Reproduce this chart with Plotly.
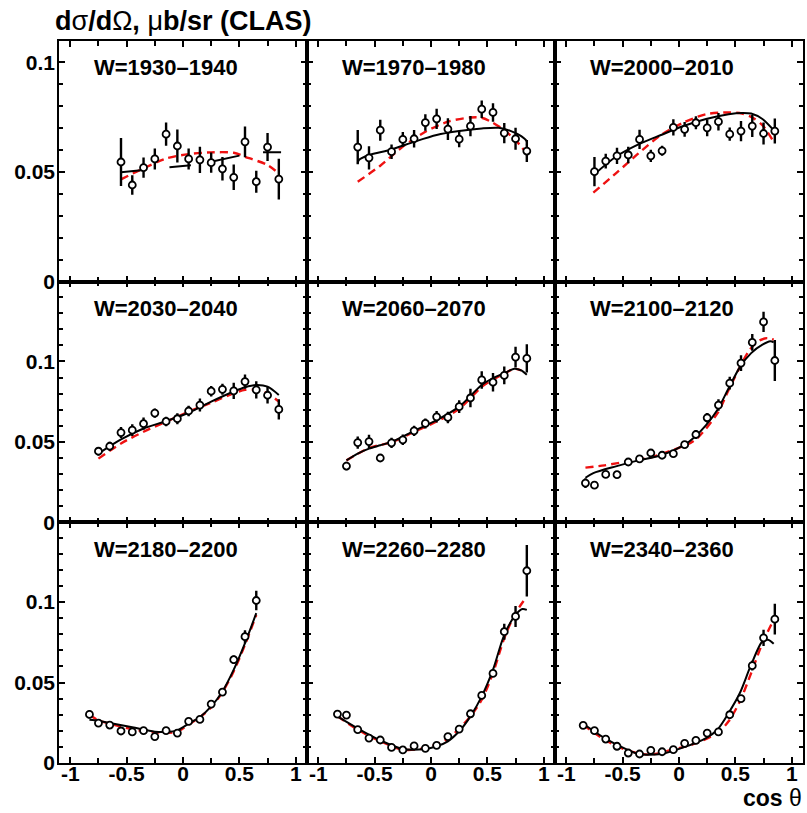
import plotly.graph_objects as go
from plotly.subplots import make_subplots

# ---- panel titles (energy bins, MeV) ----
w_labels = ["W=1930–1940", "W=1970–1980", "W=2000–2010",
            "W=2030–2040", "W=2060–2070", "W=2100–2120",
            "W=2180–2200", "W=2260–2280", "W=2340–2360"]

# ---- CLAS data: cos(theta), dsigma/dOmega (mub/sr), stat. error ----
cos_1 = [-0.55, -0.45, -0.35, -0.25, -0.15, -0.05, 0.05, 0.15, 0.25, 0.35, 0.45, 0.55, 0.65, 0.75, 0.85]
xs_1 = [0.0546, 0.0441, 0.0520, 0.0560, 0.0673, 0.0619, 0.0560, 0.0556, 0.0543, 0.0515, 0.0476, 0.0638, 0.0456, 0.0614, 0.0468]
err_1 = [0.0110, 0.0045, 0.0046, 0.0048, 0.0053, 0.0075, 0.0048, 0.0060, 0.0046, 0.0054, 0.0058, 0.0070, 0.0050, 0.0064, 0.0093]

cos_2 = [-0.65, -0.55, -0.45, -0.35, -0.25, -0.15, -0.05, 0.05, 0.15, 0.25, 0.35, 0.45, 0.55, 0.65, 0.75, 0.85]
xs_2 = [0.0614, 0.0565, 0.0691, 0.0593, 0.0649, 0.0652, 0.0726, 0.0743, 0.0696, 0.0650, 0.0710, 0.0787, 0.0772, 0.0678, 0.0652, 0.0596]
err_2 = [0.0078, 0.0053, 0.0048, 0.0033, 0.0034, 0.0040, 0.0038, 0.0046, 0.0050, 0.0037, 0.0046, 0.0040, 0.0042, 0.0046, 0.0050, 0.0050]

cos_3 = [-0.75, -0.65, -0.55, -0.45, -0.35, -0.25, -0.15, -0.05, 0.05, 0.15, 0.25, 0.35, 0.45, 0.55, 0.65, 0.75, 0.85]
xs_3 = [0.0502, 0.0550, 0.0574, 0.0578, 0.0649, 0.0574, 0.0597, 0.0704, 0.0695, 0.0725, 0.0702, 0.0730, 0.0673, 0.0687, 0.0710, 0.0676, 0.0687]
err_3 = [0.0067, 0.0034, 0.0037, 0.0038, 0.0044, 0.0028, 0.0023, 0.0037, 0.0034, 0.0030, 0.0038, 0.0040, 0.0030, 0.0046, 0.0050, 0.0050, 0.0057]

cos_4 = [-0.75, -0.65, -0.55, -0.45, -0.35, -0.25, -0.15, -0.05, 0.05, 0.15, 0.25, 0.35, 0.45, 0.55, 0.65, 0.75, 0.85]
xs_4 = [0.0442, 0.0473, 0.0558, 0.0573, 0.0613, 0.0679, 0.0627, 0.0644, 0.0692, 0.0729, 0.0815, 0.0827, 0.0817, 0.0875, 0.0823, 0.0790, 0.0702]
err_4 = [0.0026, 0.0028, 0.0034, 0.0037, 0.0038, 0.0029, 0.0030, 0.0034, 0.0033, 0.0040, 0.0033, 0.0034, 0.0050, 0.0044, 0.0054, 0.0052, 0.0063]

cos_5 = [-0.75, -0.65, -0.55, -0.45, -0.35, -0.25, -0.15, -0.05, 0.05, 0.15, 0.25, 0.35, 0.45, 0.55, 0.65, 0.75, 0.85]
xs_5 = [0.0350, 0.0496, 0.0502, 0.0400, 0.0494, 0.0513, 0.0569, 0.0615, 0.0656, 0.0652, 0.0719, 0.0773, 0.0885, 0.0871, 0.0913, 0.1027, 0.1019]
err_5 = [0.0026, 0.0038, 0.0042, 0.0024, 0.0032, 0.0033, 0.0032, 0.0031, 0.0036, 0.0036, 0.0040, 0.0057, 0.0054, 0.0057, 0.0055, 0.0065, 0.0088]

cos_6 = [-0.83, -0.75, -0.65, -0.55, -0.45, -0.35, -0.25, -0.15, -0.05, 0.05, 0.15, 0.25, 0.35, 0.45, 0.55, 0.65, 0.75, 0.85]
xs_6 = [0.0244, 0.0231, 0.0298, 0.0296, 0.0375, 0.0394, 0.0431, 0.0417, 0.0427, 0.0483, 0.0546, 0.0650, 0.0729, 0.0865, 0.0990, 0.1119, 0.1246, 0.1006]
err_6 = [0.0030, 0.0015, 0.0015, 0.0015, 0.0020, 0.0020, 0.0020, 0.0020, 0.0020, 0.0020, 0.0028, 0.0030, 0.0036, 0.0040, 0.0049, 0.0052, 0.0063, 0.0128]

cos_7 = [-0.83, -0.75, -0.65, -0.55, -0.45, -0.35, -0.25, -0.15, -0.05, 0.05, 0.15, 0.25, 0.35, 0.45, 0.55, 0.65]
xs_7 = [0.0302, 0.0248, 0.0236, 0.0199, 0.0193, 0.0201, 0.0164, 0.0201, 0.0186, 0.0259, 0.0271, 0.0366, 0.0441, 0.0642, 0.0785, 0.1010]
err_7 = [0.0025, 0.0010, 0.0010, 0.0010, 0.0010, 0.0010, 0.0010, 0.0010, 0.0010, 0.0010, 0.0010, 0.0015, 0.0020, 0.0026, 0.0040, 0.0060]

cos_8 = [-0.83, -0.75, -0.65, -0.55, -0.45, -0.35, -0.25, -0.15, -0.05, 0.05, 0.15, 0.25, 0.35, 0.45, 0.55, 0.65, 0.75, 0.85]
xs_8 = [0.0304, 0.0298, 0.0207, 0.0155, 0.0143, 0.0097, 0.0081, 0.0106, 0.0091, 0.0110, 0.0164, 0.0211, 0.0306, 0.0420, 0.0557, 0.0816, 0.0911, 0.1195]
err_8 = [0.0010, 0.0010, 0.0010, 0.0010, 0.0010, 0.0010, 0.0010, 0.0010, 0.0010, 0.0010, 0.0010, 0.0012, 0.0015, 0.0020, 0.0022, 0.0050, 0.0065, 0.0160]

cos_9 = [-0.85, -0.75, -0.65, -0.55, -0.45, -0.35, -0.25, -0.15, -0.05, 0.05, 0.15, 0.25, 0.35, 0.45, 0.55, 0.65, 0.75, 0.85]
xs_9 = [0.0234, 0.0201, 0.0149, 0.0104, 0.0062, 0.0056, 0.0079, 0.0070, 0.0083, 0.0122, 0.0141, 0.0186, 0.0193, 0.0300, 0.0400, 0.0605, 0.0778, 0.0894]
err_9 = [0.0015, 0.0010, 0.0010, 0.0010, 0.0010, 0.0010, 0.0010, 0.0010, 0.0010, 0.0012, 0.0012, 0.0012, 0.0012, 0.0015, 0.0020, 0.0030, 0.0050, 0.0096]

# ---- model curves: solid black (fit) and dashed red (alternative solution) ----
fit_x_1 = [-0.55, -0.35, None, -0.12, 0.07, None, 0.25, 0.50, None, 0.71, 0.87]
fit_y_1 = [0.0499, 0.0509, None, 0.0522, 0.0531, None, 0.0547, 0.0575, None, 0.0590, 0.0590]
alt_x_1 = [-0.55, -0.35, -0.15, 0.05, 0.25, 0.45, 0.55, 0.75, 0.85]
alt_y_1 = [0.0467, 0.0517, 0.0562, 0.0582, 0.0590, 0.0588, 0.0570, 0.0532, 0.0494]

fit_x_2 = [-0.65, -0.64, -0.55, -0.35, -0.15, 0.05, 0.25, 0.45, 0.60, 0.71, 0.80, 0.85, 0.85]
fit_y_2 = [0.0540, 0.0555, 0.0578, 0.0603, 0.0638, 0.0669, 0.0687, 0.0699, 0.0702, 0.0687, 0.0664, 0.0640, 0.0625]
alt_x_2 = [-0.65, -0.45, -0.25, -0.05, 0.15, 0.35, 0.45, 0.55, 0.65, 0.75, 0.85]
alt_y_2 = [0.0456, 0.0529, 0.0616, 0.0684, 0.0730, 0.0749, 0.0748, 0.0725, 0.0691, 0.0646, 0.0585]

fit_x_3 = [-0.76, -0.56, -0.36, -0.16, 0.04, 0.24, 0.44, 0.56, 0.64, 0.74, 0.84]
fit_y_3 = [0.0486, 0.0570, 0.0626, 0.0669, 0.0710, 0.0742, 0.0764, 0.0770, 0.0767, 0.0742, 0.0691]
alt_x_3 = [-0.76, -0.56, -0.36, -0.16, 0.04, 0.24, 0.44, 0.56, 0.64, 0.74, 0.84]
alt_y_3 = [0.0406, 0.0494, 0.0585, 0.0669, 0.0726, 0.0764, 0.0772, 0.0767, 0.0752, 0.0714, 0.0638]

fit_x_4 = [-0.75, -0.55, -0.35, -0.15, 0.05, 0.25, 0.45, 0.55, 0.65, 0.75, 0.85]
fit_y_4 = [0.0427, 0.0515, 0.0583, 0.0629, 0.0681, 0.0750, 0.0813, 0.0840, 0.0854, 0.0844, 0.0792]
alt_x_4 = [-0.75, -0.55, -0.35, -0.15, 0.05, 0.25, 0.45, 0.55, 0.65, 0.75, 0.85]
alt_y_4 = [0.0396, 0.0490, 0.0563, 0.0625, 0.0688, 0.0744, 0.0802, 0.0823, 0.0823, 0.0802, 0.0750]

fit_x_5 = [-0.75, -0.65, -0.55, -0.45, -0.35, -0.15, 0.05, 0.25, 0.45, 0.55, 0.65, 0.74, 0.80, 0.85]
fit_y_5 = [0.0385, 0.0427, 0.0458, 0.0479, 0.0500, 0.0569, 0.0635, 0.0719, 0.0854, 0.0896, 0.0927, 0.0954, 0.0944, 0.0917]
alt_x_5 = [-0.75, -0.55, -0.35, -0.15, 0.05, 0.25, 0.45, 0.55, 0.65, 0.74, 0.80]
alt_y_5 = [0.0385, 0.0462, 0.0498, 0.0562, 0.0627, 0.0706, 0.0842, 0.0888, 0.0925, 0.0954, 0.0944]

fit_x_6 = [-0.83, -0.76, -0.56, -0.36, -0.16, 0.04, 0.14, 0.24, 0.34, 0.44, 0.54, 0.64, 0.74, 0.81, 0.84]
fit_y_6 = [0.0277, 0.0306, 0.0348, 0.0385, 0.0417, 0.0479, 0.0531, 0.0604, 0.0698, 0.0833, 0.0965, 0.1052, 0.1104, 0.1125, 0.1119]
alt_x_6 = [-0.83, -0.66, -0.46, -0.26, -0.06, 0.14, 0.34, 0.44, 0.54, 0.62, 0.70, 0.78, 0.84]
alt_y_6 = [0.0340, 0.0354, 0.0379, 0.0402, 0.0448, 0.0510, 0.0677, 0.0823, 0.0965, 0.1065, 0.1125, 0.1145, 0.1135]

fit_x_7 = [-0.83, -0.75, -0.65, -0.45, -0.25, -0.15, -0.05, 0.05, 0.15, 0.25, 0.35, 0.45, 0.55, 0.65]
fit_y_7 = [0.0269, 0.0263, 0.0248, 0.0222, 0.0195, 0.0193, 0.0203, 0.0244, 0.0286, 0.0352, 0.0445, 0.0580, 0.0745, 0.0932]
alt_x_7 = [-0.83, -0.75, -0.65, -0.45, -0.25, -0.05, 0.05, 0.15, 0.25, 0.35, 0.45, 0.55, 0.65]
alt_y_7 = [0.0300, 0.0265, 0.0245, 0.0210, 0.0190, 0.0195, 0.0240, 0.0285, 0.0345, 0.0440, 0.0570, 0.0735, 0.0920]

fit_x_8 = [-0.83, -0.64, -0.45, -0.25, -0.05, 0.05, 0.15, 0.25, 0.35, 0.45, 0.55, 0.65, 0.75, 0.81, 0.85]
fit_y_8 = [0.0290, 0.0211, 0.0141, 0.0087, 0.0087, 0.0104, 0.0135, 0.0197, 0.0290, 0.0414, 0.0580, 0.0797, 0.0921, 0.0957, 0.0952]
alt_x_8 = [-0.83, -0.64, -0.45, -0.25, -0.05, 0.15, 0.35, 0.45, 0.55, 0.65, 0.75, 0.85]
alt_y_8 = [0.0290, 0.0203, 0.0135, 0.0083, 0.0093, 0.0151, 0.0290, 0.0393, 0.0559, 0.0776, 0.0932, 0.1035]

fit_x_9 = [-0.85, -0.66, -0.46, -0.36, -0.16, 0.04, 0.24, 0.34, 0.44, 0.54, 0.64, 0.74, 0.79, 0.84]
fit_y_9 = [0.0244, 0.0155, 0.0083, 0.0056, 0.0056, 0.0097, 0.0155, 0.0207, 0.0311, 0.0435, 0.0611, 0.0756, 0.0766, 0.0741]
alt_x_9 = [-0.85, -0.66, -0.46, -0.26, -0.06, 0.14, 0.34, 0.44, 0.54, 0.64, 0.74, 0.84]
alt_y_9 = [0.0238, 0.0145, 0.0079, 0.0052, 0.0083, 0.0120, 0.0186, 0.0259, 0.0383, 0.0559, 0.0745, 0.0890]

# ---- axis ticks ----
x_tickvals = [-1, -0.5, 0, 0.5, 1]
x_ticktext = ["-1", "-0.5", "0", "0.5", "1"]
y_tickvals = [0, 0.05, 0.1]
y_ticktext = ["0", "0.05", "0.1"]
row_ymax = [0.1098, 0.1496, 0.1496]

panels = [
    (cos_1, xs_1, err_1, fit_x_1, fit_y_1, alt_x_1, alt_y_1),
    (cos_2, xs_2, err_2, fit_x_2, fit_y_2, alt_x_2, alt_y_2),
    (cos_3, xs_3, err_3, fit_x_3, fit_y_3, alt_x_3, alt_y_3),
    (cos_4, xs_4, err_4, fit_x_4, fit_y_4, alt_x_4, alt_y_4),
    (cos_5, xs_5, err_5, fit_x_5, fit_y_5, alt_x_5, alt_y_5),
    (cos_6, xs_6, err_6, fit_x_6, fit_y_6, alt_x_6, alt_y_6),
    (cos_7, xs_7, err_7, fit_x_7, fit_y_7, alt_x_7, alt_y_7),
    (cos_8, xs_8, err_8, fit_x_8, fit_y_8, alt_x_8, alt_y_8),
    (cos_9, xs_9, err_9, fit_x_9, fit_y_9, alt_x_9, alt_y_9),
]

FONT = "Liberation Sans, Arial, sans-serif"

fig = make_subplots(rows=3, cols=3, horizontal_spacing=0, vertical_spacing=0)

for i, (cx, cy, ce, fx, fy, ax_, ay_) in enumerate(panels):
    r, c = i // 3 + 1, i % 3 + 1
    fig.add_trace(go.Scatter(
        x=ax_, y=ay_, mode="lines", line=dict(color="#ee1111", width=2.4, dash="8px,5px", shape="spline", smoothing=0.8),
        showlegend=False, hoverinfo="skip"), row=r, col=c)
    fig.add_trace(go.Scatter(
        x=fx, y=fy, mode="lines", connectgaps=False,
        line=dict(color="black", width=2.0, shape="spline" if i else "linear", smoothing=0.8),
        showlegend=False, hoverinfo="skip"), row=r, col=c)
    fig.add_trace(go.Scatter(
        x=cx, y=cy, mode="markers",
        error_y=dict(type="data", array=ce, visible=True, color="black", thickness=2.4, width=0),
        marker=dict(symbol="circle", size=7, color="white", line=dict(color="black", width=1.8)),
        showlegend=False), row=r, col=c)

    fig.update_xaxes(
        row=r, col=c, range=[-1.1, 1.1], showgrid=False, zeroline=False,
        showline=True, linecolor="black", linewidth=1.6, mirror="allticks",
        ticks="inside", ticklen=6, tickwidth=1.5, tickcolor="black",
        tickmode="array", tickvals=x_tickvals, ticktext=x_ticktext,
        showticklabels=(r == 3), ticklabelstandoff=-9,
        tickfont=dict(family=FONT, size=21, color="black", weight="bold"),
        minor=dict(ticks="inside", dtick=0.25, tick0=0, ticklen=5, tickwidth=1.5, tickcolor="black"),
    )
    fig.update_yaxes(
        row=r, col=c, range=[0, row_ymax[r - 1]], showgrid=False, zeroline=False,
        showline=True, linecolor="black", linewidth=1.6, mirror="allticks",
        ticks="inside", ticklen=6, tickwidth=1.5, tickcolor="black",
        tickmode="array", tickvals=y_tickvals, ticktext=y_ticktext,
        showticklabels=(c == 1), ticklabelstandoff=-2,
        tickfont=dict(family=FONT, size=21, color="black", weight="bold"),
        minor=dict(ticks="inside", dtick=0.01, tick0=0, ticklen=4, tickwidth=1.5, tickcolor="black"),
    )

    xref = "x domain" if i == 0 else f"x{i + 1} domain"
    yref = "y domain" if i == 0 else f"y{i + 1} domain"
    fig.add_annotation(
        text=w_labels[i], xref=xref, yref=yref, x=0.135, y=0.888,
        xanchor="left", yanchor="middle", showarrow=False,
        font=dict(family=FONT, size=22, color="black", weight="bold"))

fig.add_annotation(
    text="<b>d</b>σ<b>/d</b>Ω<b>, </b>μ<b>b/sr (CLAS)</b>",
    xref="paper", yref="paper", x=-0.008, y=1.028, xanchor="left", yanchor="middle",
    showarrow=False, font=dict(family=FONT, size=27, color="black"))
fig.add_annotation(
    text="<b>cos</b> θ", xref="paper", yref="paper", x=1.0, y=-0.0672,
    xanchor="right", yanchor="bottom", showarrow=False, borderpad=0,
    font=dict(family=FONT, size=23, color="black"))

fig.update_layout(
    width=807, height=813, autosize=False,
    margin=dict(l=59, r=2, t=41, b=50),
    paper_bgcolor="white", plot_bgcolor="white",
    font=dict(family=FONT, color="black"),
)

fig.write_html("out.html")
